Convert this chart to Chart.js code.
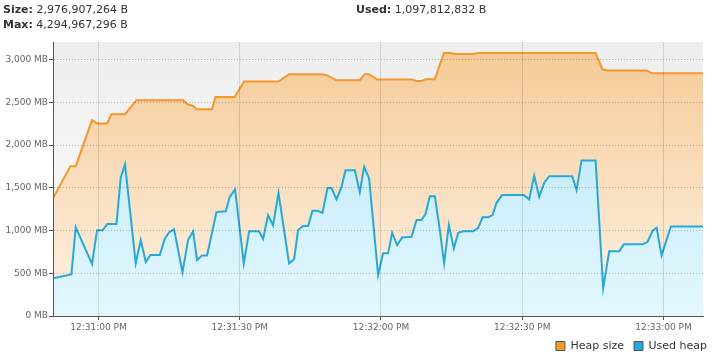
<!DOCTYPE html>
<html><head><meta charset="utf-8">
<script src="https://cdn.jsdelivr.net/npm/chart.js@4"></script>
<style>
html,body{margin:0;padding:0;background:#fff;}
#wrap{position:relative;width:713px;height:357px;overflow:hidden;}
canvas{position:absolute;left:0;top:0;}
.hd{position:absolute;font-family:"DejaVu Sans";font-size:11px;color:#333;line-height:15px;white-space:nowrap;}
.hd b{font-weight:bold;}
</style></head><body>
<div id="wrap">
<canvas id="c" width="713" height="357"></canvas>
<div class="hd" id="h0" style="left:3px;top:2px"></div>
<div class="hd" id="h1" style="left:356px;top:2px"></div>
<div class="hd" id="h2" style="left:3px;top:17px"></div>
</div>
<script>
// header texts
const headerLabels = ['Size:', 'Used:', 'Max:'];
const headerValues = ['2,976,907,264 B', '1,097,812,832 B', '4,294,967,296 B'];

// series names
const seriesNames = ['Heap size', 'Used heap'];

// time in seconds after 12:30:00 PM, values in MB
const sizeTimes = [50.35, 54.05, 55.18, 58.64, 59.70, 61.83, 62.76, 65.65, 68.07, 77.97, 79.03, 80.10, 80.95, 84.13, 84.86, 88.96, 90.93, 98.24, 100.49, 107.38, 108.44, 110.56, 115.51, 116.57, 117.49, 119.19, 126.50, 127.56, 128.62, 129.54, 131.45, 133.36, 134.63, 135.70, 139.58, 140.65, 165.59, 167.08, 168.26, 176.42, 177.61, 188.40];
const sizeValues = [1376, 1753, 1753, 2291, 2252, 2252, 2361, 2361, 2524, 2524, 2474, 2458, 2419, 2419, 2563, 2563, 2743, 2743, 2828, 2828, 2817, 2758, 2758, 2828, 2828, 2766, 2766, 2750, 2750, 2770, 2770, 3077, 3077, 3065, 3065, 3077, 3077, 2883, 2871, 2871, 2839, 2839];

const usedTimes = [50.35, 54.26, 55.18, 58.64, 59.70, 60.85, 61.91, 63.82, 64.74, 65.65,
  67.92, 68.99, 70.05, 71.05, 73.03, 74.09, 75.00, 76.06, 77.85, 79.04,
  80.10, 80.95, 82.01, 83.07, 84.01, 85.07, 87.04, 87.89, 89.02, 90.87,
  92.00, 94.12, 94.97, 96.03, 97.09, 98.24, 100.49, 101.56, 102.40, 103.47,
  104.53, 105.46, 106.53, 107.59, 108.65, 109.50, 110.56, 111.63, 112.48, 114.45,
  115.51, 116.43, 117.49, 119.40, 120.46, 121.53, 122.38, 123.44, 124.50, 126.50,
  127.56, 128.62, 129.47, 130.39, 131.45, 132.51, 133.42, 134.42, 135.48, 136.40,
  137.46, 139.58, 140.65, 141.58, 142.77, 143.71, 144.56, 145.74, 150.35, 151.48,
  152.54, 153.61, 154.67, 155.73, 160.62, 161.55, 162.61, 165.59, 167.20, 168.48,
  170.60, 171.60, 175.57, 176.63, 177.70, 178.55, 179.61, 181.58, 188.40];
const usedValues = [440, 487, 1037, 608, 1002, 1002, 1075, 1075, 1621, 1773,
  616, 888, 631, 713, 713, 903, 978, 1013, 511, 888,
  990, 654, 709, 709, 947, 1215, 1224, 1394, 1481, 616,
  990, 990, 900, 1180, 1060, 1441, 616, 663, 1005, 1052,
  1052, 1231, 1231, 1207, 1496, 1496, 1364, 1511, 1706, 1706,
  1446, 1745, 1609, 479, 733, 733, 974, 830, 920, 927,
  1122, 1122, 1192, 1402, 1402, 1005, 616, 1064, 791, 974,
  990, 990, 1032, 1154, 1154, 1180, 1324, 1414, 1414, 1364,
  1640, 1394, 1558, 1636, 1636, 1473, 1820, 1820, 324, 756,
  756, 838, 838, 868, 997, 1032, 709, 1047, 1047];

// axis ticks
const xTickValues = [60, 90, 120, 150, 180];
const xTickLabels = ['12:31:00 PM', '12:31:30 PM', '12:32:00 PM', '12:32:30 PM', '12:33:00 PM'];
const yTickValues = [0, 500, 1000, 1500, 2000, 2500, 3000];
const yTickLabels = ['0 MB', '500 MB', '1,000 MB', '1,500 MB', '2,000 MB', '2,500 MB', '3,000 MB'];
const xRange = [50.35, 188.4];
const yRange = [0, 3205];

// header
for (let i = 0; i < headerLabels.length; i++) {
  const el = document.getElementById('h' + i);
  const b = document.createElement('b'); b.textContent = headerLabels[i];
  el.appendChild(b); el.appendChild(document.createTextNode(' ' + headerValues[i]));
}

const lineColors = ['#f2982e', '#26a9d8'];
const boxColors = ['#f39a2b', '#1fa9dc'];
const fillStops = [['#f5c994', '#fef3e6'], ['#b3e4f9', '#e4f8fe']];

function vGrad(ctx, stops) {
  const chart = ctx.chart, a = chart.chartArea;
  if (!a) return stops[0];
  const g = chart.ctx.createLinearGradient(0, a.top, 0, a.bottom);
  g.addColorStop(0, stops[0]); g.addColorStop(1, stops[1]);
  return g;
}

const bgPlugin = {
  id: 'plotBg',
  afterLayout(chart) {
    // let the x tick labels extend below the thin axis box so they are not clipped
    const sx = chart.scales.x;
    sx.bottom = sx.top + 22;
  },
  beforeDraw(chart) {
    const a = chart.chartArea, c = chart.ctx;
    const g = c.createLinearGradient(0, a.top, 0, a.bottom);
    g.addColorStop(0, '#eeeeee'); g.addColorStop(1, '#fdfdfd');
    c.save(); c.fillStyle = g; c.fillRect(a.left, a.top, a.right - a.left, a.bottom - a.top); c.restore();
  }
};

Chart.defaults.font.family = 'DejaVu Sans';

new Chart(document.getElementById('c'), {
  type: 'line',
  data: {
    datasets: [
      {
        label: seriesNames[0], order: 2,
        data: sizeTimes.map((t, i) => ({x: t, y: sizeValues[i]})),
        borderColor: lineColors[0], borderWidth: 2,
        backgroundColor: (ctx) => vGrad(ctx, fillStops[0]),
        fill: 'origin', pointRadius: 0, tension: 0
      },
      {
        label: seriesNames[1], order: 1,
        data: usedTimes.map((t, i) => ({x: t, y: usedValues[i]})),
        borderColor: lineColors[1], borderWidth: 2,
        backgroundColor: (ctx) => vGrad(ctx, fillStops[1]),
        fill: 'origin', pointRadius: 0, tension: 0
      }
    ]
  },
  options: {
    responsive: false, animation: false, devicePixelRatio: 1,
    layout: {padding: {left: 0, right: -4, top: 42, bottom: -4.5}},
    scales: {
      x: {
        type: 'linear', min: xRange[0], max: xRange[1],
        afterBuildTicks: (s) => { s.ticks = xTickValues.map(v => ({value: v})); },
        afterFit: (s) => { s.height = 14.5; },
        ticks: {
          callback: (v) => xTickLabels[xTickValues.indexOf(v)],
          font: {size: 9}, color: '#666', padding: 2, maxRotation: 0, autoSkip: false
        },
        grid: {color: 'rgba(0,0,0,0.13)', tickColor: '#555', tickLength: 4, z: 1},
        border: {color: '#555', width: 1, z: 2}
      },
      y: {
        min: yRange[0], max: yRange[1],
        afterBuildTicks: (s) => { s.ticks = yTickValues.map(v => ({value: v})); },
        afterFit: (s) => { s.width = 53; },
        ticks: {
          callback: (v) => yTickLabels[yTickValues.indexOf(v)],
          font: {size: 9}, color: '#666', padding: 1
        },
        grid: {color: 'rgba(0,0,0,0.24)', tickColor: '#555', tickLength: 4, z: 1},
        border: {color: '#555', width: 1, dash: [1, 2], z: 2}
      },
      yr: {
        position: 'right', display: true,
        afterFit: (s) => { s.width = 14; },
        ticks: {display: false}, grid: {display: false}, border: {display: false}
      }
    },
    plugins: {
      legend: {
        position: 'bottom', align: 'end',
        labels: {
          boxWidth: 9, boxHeight: 9, padding: 10, color: '#333', font: {size: 11},
          sort: (a, b) => a.datasetIndex - b.datasetIndex,
          generateLabels: (chart) => {
            const items = Chart.defaults.plugins.legend.labels.generateLabels(chart);
            items.forEach(it => {
              it.fillStyle = boxColors[it.datasetIndex];
              it.strokeStyle = '#555';
              it.lineWidth = 1;
            });
            return items;
          }
        }
      },
      tooltip: {enabled: false}
    }
  },
  plugins: [bgPlugin]
});
</script>
</body></html>
